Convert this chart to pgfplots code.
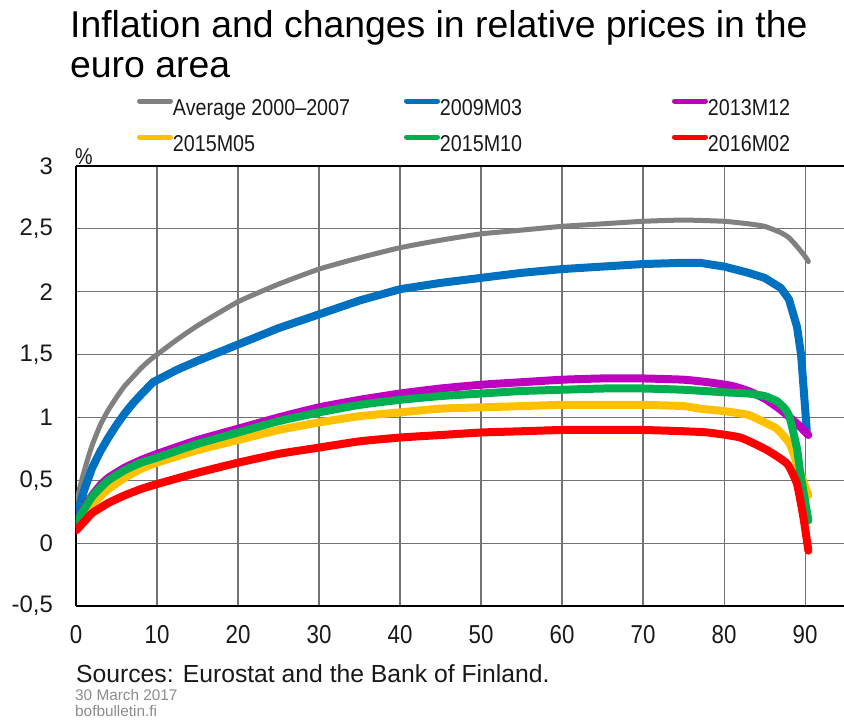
\documentclass[border=0pt]{standalone}
\usepackage{pgfplots}
\pgfplotsset{compat=1.18}
\usepackage{fontspec}
\setmainfont{Liberation Sans}
\newfontfamily\narrowfont[FakeStretch=0.86]{Liberation Sans}
\definecolor{cgray}{RGB}{128,128,128}
\definecolor{cblue}{RGB}{0,112,192}
\definecolor{cmag}{RGB}{192,0,192}
\definecolor{cyel}{RGB}{255,192,0}
\definecolor{cgreen}{RGB}{0,176,80}
\definecolor{cred}{RGB}{255,0,0}
\definecolor{ctext}{RGB}{25,25,25}
\begin{document}
\begin{tikzpicture}
\path[use as bounding box] (-76bp,-114bp) rectangle (768bp,606bp);
\begin{axis}[
  at={(0,0)}, anchor=south west,
  scale only axis, width=768bp, height=440bp,
  xmin=0, xmax=94.8, ymin=-0.5, ymax=3,
  xtick={0,10,...,90}, ytick={-0.5,0,0.5,1,1.5,2,2.5,3},
  grid=major, major grid style={draw=black!55, line width=1.2bp},
  axis lines*=left, axis line style={black, line width=1.8bp},
  tick style={draw=none},
  /pgf/number format/use comma, /pgf/number format/assume math mode=true,
  xticklabel style={font=\fontsize{26}{26}\narrowfont, text=ctext, inner sep=0pt, anchor=north, yshift=-19bp},
  yticklabel style={font=\fontsize{24}{24}\selectfont, text=ctext, inner sep=0pt, anchor=east, xshift=-23bp},
  extra y ticks={3}, extra y tick labels={},
  extra y tick style={grid=major, major grid style={draw=black, line width=1.6bp}},
  legend columns=3,
  legend cell align=left,
  legend style={at={(axis description cs:0.0794,1.1545)}, anchor=north west, draw=none, fill=none,
    inner sep=0pt, outer sep=0pt, row sep=14bp, column sep=0pt,
    font=\fontsize{23}{23}\narrowfont, text=ctext,
    nodes={inner sep=0pt, text height=17bp, text depth=5bp}},
  legend image code/.code={\draw[line width=5bp, line cap=round] (2.5bp,8bp) -- (33.5bp,8bp);},
  every axis plot/.append style={line join=round, line cap=round},
]
\addplot[cgray, line width=5bp, smooth, tension=0.3] coordinates {
(0,0.30) (0.5,0.45) (1,0.57) (1.5,0.68) (2,0.78) (3,0.94) (4,1.06) (5,1.16) (6,1.25) (7,1.32)
(8,1.39) (9,1.45) (10,1.50) (12.5,1.62) (15,1.73)
(20,1.92) (25,2.06) (30,2.18) (35,2.27) (40,2.35) (45,2.41) (50,2.46) (55,2.49) (60,2.52)
(65,2.54) (70,2.56) (75,2.57) (80,2.56) (83,2.54) (85,2.52) (87,2.47) (88,2.43) (89,2.36)
(90,2.28) (90.4,2.24)};
\addlegendentry{\makebox[231bp][l]{Average 2000–2007}}
\addplot[cblue, line width=8bp] coordinates {
(0,0.20) (1,0.42) (2,0.60) (3,0.73) (4,0.84) (5,0.94) (6,1.03) (7,1.11) (8,1.18) (9.5,1.28) (12.5,1.38) (15,1.45)
(20,1.58) (25,1.71) (30,1.82) (35,1.93) (40,2.02) (45,2.07) (50,2.11) (55,2.15) (60,2.18)
(65,2.20) (70,2.22) (75,2.23) (77,2.23) (80,2.20) (83,2.15) (85,2.11) (87,2.03) (88,1.94)
(89,1.72) (89.5,1.50) (90.2,0.90)};
\addlegendentry{\makebox[232bp][l]{2009M03}}
\addplot[cmag, line width=8bp, smooth, tension=0.3] coordinates {
(0,0.15) (1,0.28) (2,0.38) (3,0.46) (4,0.52) (6,0.60) (8,0.66) (10,0.71) (15,0.82) (20,0.91)
(25,1.00) (30,1.08) (35,1.14) (40,1.19) (45,1.23) (50,1.26) (55,1.28) (60,1.30) (65,1.31)
(70,1.31) (75,1.30) (78,1.28) (81,1.25) (83,1.21) (85,1.15) (87,1.06) (89,0.95) (90.4,0.86)};
\addlegendentry{2013M12}
\addplot[cyel, line width=8bp, smooth, tension=0.3] coordinates {
(0,0.13) (1,0.22) (2,0.30) (3,0.37) (4,0.43) (6,0.52) (8,0.59) (10,0.64) (15,0.74) (20,0.82)
(25,0.90) (30,0.96) (35,1.01) (40,1.04) (45,1.07) (50,1.08) (55,1.09) (60,1.10) (65,1.10)
(70,1.10) (75,1.09) (77,1.07) (80,1.05) (83,1.02) (85,0.96) (86.5,0.91) (88.1,0.79)
(89.4,0.56) (90.4,0.38)};
\addlegendentry{\makebox[231bp][l]{2015M05}}
\addplot[cgreen, line width=8bp, smooth, tension=0.3] coordinates {
(0,0.15) (1,0.27) (2,0.37) (3,0.44) (4,0.50) (6,0.58) (8,0.64) (10,0.68) (15,0.79) (20,0.88)
(25,0.97) (30,1.04) (35,1.10) (40,1.14) (45,1.17) (50,1.19) (55,1.21) (60,1.22) (65,1.23)
(70,1.23) (75,1.22) (80,1.20) (83,1.19) (85,1.17) (86.5,1.13) (87.5,1.07) (88.1,1.00)
(89,0.75) (89.4,0.56) (90.4,0.18)};
\addlegendentry{\makebox[232bp][l]{2015M10}}
\addplot[cred, line width=8bp, smooth, tension=0.3] coordinates {
(0,0.10) (1,0.17) (2,0.24) (3,0.28) (4,0.32) (6,0.38) (8,0.43) (10,0.47) (15,0.56) (20,0.64)
(25,0.71) (30,0.76) (35,0.81) (40,0.84) (45,0.86) (50,0.88) (55,0.89) (60,0.90) (65,0.90)
(70,0.90) (75,0.89) (78,0.88) (82,0.84) (85.3,0.74) (87.8,0.63) (89,0.47) (89.8,0.20)
(90.4,-0.06)};
\addlegendentry{2016M02}
\end{axis}
\node[anchor=base west, inner sep=0pt, font=\fontsize{37.5}{37.5}\selectfont] at (-6bp,568bp) {Inflation and changes in relative prices in the};
\node[anchor=base west, inner sep=0pt, font=\fontsize{37.5}{37.5}\selectfont] at (-6bp,528bp) {euro area};
\node[anchor=base west, inner sep=0pt, font=\fontsize{23}{23}\narrowfont, text=ctext] at (-1bp,441bp) {\%};
\node[anchor=base west, inner sep=0pt, font=\fontsize{24.8}{24.8}\selectfont, text=ctext] at (0bp,-76bp) {Sources: Eurostat and the Bank of Finland.};
\node[anchor=base west, inner sep=0pt, font=\fontsize{15.4}{15.4}\selectfont, text=black!45] at (-1bp,-94bp) {30 March 2017};
\node[anchor=base west, inner sep=0pt, font=\fontsize{15.4}{15.4}\selectfont, text=black!45] at (-1bp,-110bp) {bofbulletin.fi};
\end{tikzpicture}
\end{document}
